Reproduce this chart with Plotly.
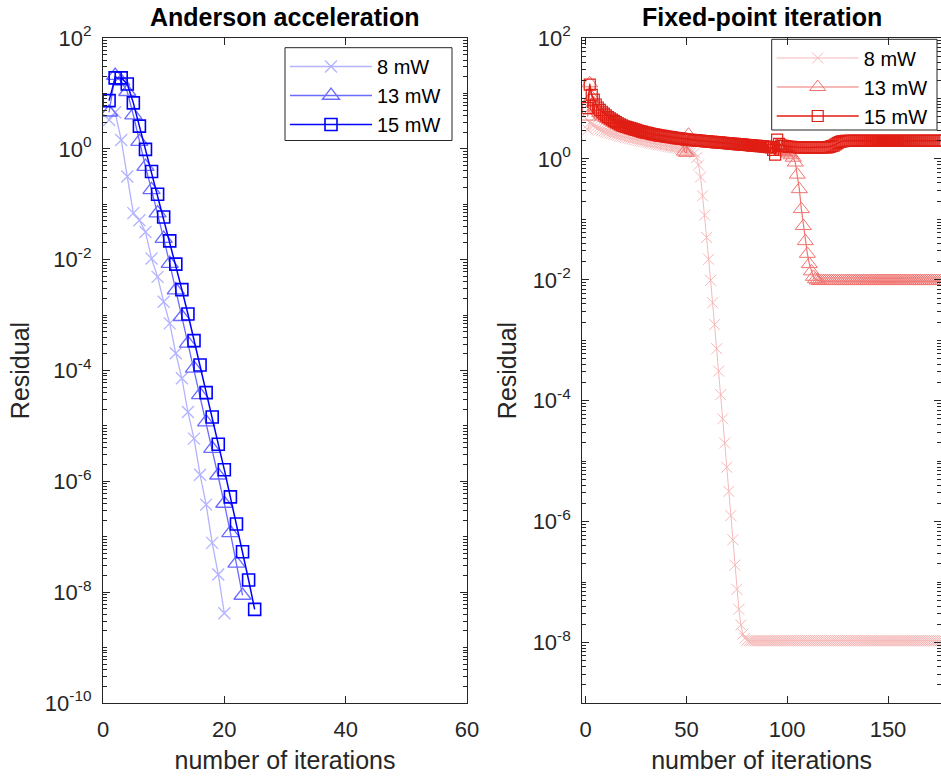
import plotly.graph_objects as go

W, H = 941, 776

# ---------------- data (log10 of residual) ----------------
# Anderson acceleration, iterations 1..N
aa_8mW_exp = [0.52, 0.66, 0.16, -0.50, -1.16, -1.29, -1.50, -1.98, -2.31, -2.76,
              -3.15, -3.69, -4.14, -4.75, -5.23, -5.88, -6.42, -7.11, -7.68, -8.38]
aa_13mW_exp = [0.66, 1.32, 1.22, 1.03, 0.61, 0.13, -0.32, -0.74, -1.16, -1.62,
               -2.07, -2.55, -3.03, -3.51, -3.96, -4.44, -4.93, -5.41, -5.89, -6.40,
               -6.93, -7.48, -8.06]
aa_15mW_exp = [0.87, 1.28, 1.28, 1.17, 0.83, 0.41, -0.01, -0.41, -0.82, -1.23,
               -1.66, -2.08, -2.54, -2.98, -3.46, -3.90, -4.40, -4.84, -5.33, -5.79,
               -6.28, -6.77, -7.27, -7.78, -8.31]

# Fixed-point iteration, iterations 1..178
fp_8mW_exp = [
    0.48, 0.60, 0.58, 0.55, 0.53, 0.51, 0.49, 0.475, 0.46, 0.45,
    0.44, 0.43, 0.42, 0.41, 0.40, 0.39, 0.38, 0.372, 0.364, 0.356,
    0.348, 0.34, 0.332, 0.324, 0.316, 0.308, 0.30, 0.293, 0.286, 0.279,
    0.272, 0.265, 0.258, 0.251, 0.244, 0.237, 0.23, 0.224, 0.218, 0.212,
    0.206, 0.20, 0.194, 0.188, 0.182, 0.176, 0.17, 0.164, 0.158, 0.152,
    0.146, 0.14, 0.13, 0.10, 0.02, -0.10, -0.30, -0.61, -0.93, -1.30,
    -1.66, -2.01, -2.38, -2.74, -3.14, -3.51, -3.90, -4.30, -4.70, -5.10,
    -5.50, -5.90, -6.30, -6.72, -7.12, -7.45, -7.71, -7.86, -7.93, -7.96,
    -7.97, -7.97, -7.97, -7.97, -7.97, -7.97, -7.97, -7.97, -7.97, -7.97,
    -7.97, -7.97, -7.97, -7.97, -7.97, -7.97, -7.97, -7.97, -7.97, -7.97,
    -7.97, -7.97, -7.97, -7.97, -7.97, -7.97, -7.97, -7.97, -7.97, -7.97,
    -7.97, -7.97, -7.97, -7.97, -7.97, -7.97, -7.97, -7.97, -7.97, -7.97,
    -7.97, -7.97, -7.97, -7.97, -7.97, -7.97, -7.97, -7.97, -7.97, -7.97,
    -7.97, -7.97, -7.97, -7.97, -7.97, -7.97, -7.97, -7.97, -7.97, -7.97,
    -7.97, -7.97, -7.97, -7.97, -7.97, -7.97, -7.97, -7.97, -7.97, -7.97,
    -7.97, -7.97, -7.97, -7.97, -7.97, -7.97, -7.97, -7.97, -7.97, -7.97,
    -7.97, -7.97, -7.97, -7.97, -7.97, -7.97, -7.97, -7.97, -7.97, -7.97,
    -7.97, -7.97, -7.97, -7.97, -7.97, -7.97, -7.97, -7.97,
]
fp_13mW_exp = [
    0.70, 1.25, 1.02, 0.92, 0.85, 0.80, 0.76, 0.73, 0.70, 0.68,
    0.66, 0.64, 0.62, 0.60, 0.58, 0.565, 0.55, 0.535, 0.52, 0.51,
    0.50, 0.49, 0.48, 0.47, 0.46, 0.45, 0.44, 0.43, 0.42, 0.415,
    0.41, 0.40, 0.395, 0.39, 0.385, 0.38, 0.375, 0.37, 0.365, 0.36,
    0.355, 0.35, 0.345, 0.34, 0.335, 0.33, 0.325, 0.32, 0.12, 0.10,
    0.40, 0.31, 0.305, 0.30, 0.297, 0.294, 0.291, 0.288, 0.285, 0.282,
    0.279, 0.276, 0.273, 0.27, 0.267, 0.264, 0.261, 0.258, 0.255, 0.252,
    0.249, 0.246, 0.243, 0.24, 0.237, 0.234, 0.231, 0.228, 0.225, 0.222,
    0.219, 0.216, 0.213, 0.21, 0.207, 0.204, 0.201, 0.198, 0.195, 0.19,
    0.185, 0.18, 0.175, 0.17, 0.16, 0.15, 0.14, 0.13, 0.12, 0.11,
    0.09, 0.06, 0.02, -0.06, -0.26, -0.50, -0.83, -1.11, -1.36, -1.57,
    -1.74, -1.86, -1.95, -1.99, -2.01, -2.02, -2.02, -2.02, -2.02, -2.02,
    -2.02, -2.02, -2.02, -2.02, -2.02, -2.02, -2.02, -2.02, -2.02, -2.02,
    -2.02, -2.02, -2.02, -2.02, -2.02, -2.02, -2.02, -2.02, -2.02, -2.02,
    -2.02, -2.02, -2.02, -2.02, -2.02, -2.02, -2.02, -2.02, -2.02, -2.02,
    -2.02, -2.02, -2.02, -2.02, -2.02, -2.02, -2.02, -2.02, -2.02, -2.02,
    -2.02, -2.02, -2.02, -2.02, -2.02, -2.02, -2.02, -2.02, -2.02, -2.02,
    -2.02, -2.02, -2.02, -2.02, -2.02, -2.02, -2.02, -2.02,
]
fp_15mW_exp = [
    0.84, 1.23, 1.06, 0.98, 0.90, 0.85, 0.81, 0.78, 0.75, 0.72,
    0.69, 0.67, 0.65, 0.63, 0.61, 0.59, 0.57, 0.555, 0.54, 0.53,
    0.52, 0.51, 0.50, 0.49, 0.48, 0.47, 0.46, 0.45, 0.44, 0.435,
    0.425, 0.42, 0.41, 0.405, 0.40, 0.39, 0.385, 0.38, 0.375, 0.37,
    0.365, 0.36, 0.355, 0.35, 0.345, 0.34, 0.335, 0.33, 0.325, 0.32,
    0.317, 0.314, 0.311, 0.308, 0.305, 0.302, 0.299, 0.296, 0.293, 0.29,
    0.287, 0.284, 0.281, 0.278, 0.275, 0.272, 0.269, 0.266, 0.263, 0.26,
    0.257, 0.254, 0.251, 0.248, 0.245, 0.242, 0.239, 0.236, 0.233, 0.23,
    0.227, 0.224, 0.221, 0.218, 0.215, 0.212, 0.209, 0.206, 0.203, 0.20,
    0.195, 0.19, 0.15, 0.07, 0.32, 0.25, 0.22, 0.215, 0.21, 0.205,
    0.20, 0.20, 0.197, 0.195, 0.193, 0.19, 0.19, 0.19, 0.19, 0.19,
    0.19, 0.19, 0.19, 0.19, 0.19, 0.19, 0.19, 0.19, 0.19, 0.19,
    0.20, 0.21, 0.22, 0.24, 0.26, 0.28, 0.29, 0.295, 0.30, 0.30,
    0.30, 0.30, 0.30, 0.30, 0.30, 0.30, 0.30, 0.30, 0.30, 0.30,
    0.30, 0.30, 0.30, 0.30, 0.30, 0.30, 0.30, 0.30, 0.30, 0.30,
    0.30, 0.30, 0.30, 0.30, 0.30, 0.30, 0.30, 0.30, 0.30, 0.30,
    0.30, 0.30, 0.30, 0.30, 0.30, 0.30, 0.30, 0.30, 0.30, 0.30,
    0.30, 0.30, 0.30, 0.30, 0.30, 0.30, 0.30, 0.30,
]

series_names = ["8 mW", "13 mW", "15 mW"]
log_tick_exps_left = [-10, -8, -6, -4, -2, 0, 2]
log_tick_exps_right = [-8, -6, -4, -2, 0, 2]
x_ticks_left = [0, 20, 40, 60]
x_ticks_right = [0, 50, 100, 150]

# ---------------- styles ----------------
BLUES = ["#b3b3ff", "#6b6bff", "#0000ff"]
REDS = ["#f6b9b9", "#f07571", "#e01e14"]
AXC = "#262626"
FONT = "Liberation Sans, Arial, Helvetica, sans-serif"

fig = go.Figure()


def add(exps, name, color, symbol, size, lw, mlw, xa, ya, legend):
    xs = list(range(1, len(exps) + 1))
    fig.add_trace(go.Scatter(
        x=xs, y=[10 ** v for v in exps], mode="lines+markers", name=name,
        line=dict(color=color, width=lw),
        marker=dict(symbol=symbol, size=size, color=color,
                    line=dict(color=color, width=mlw)),
        xaxis=xa, yaxis=ya, legend=legend, cliponaxis=True))


add(aa_8mW_exp, series_names[0], BLUES[0], "x-thin-open", 12, 1.3, 1.3, "x", "y", "legend")
add(aa_13mW_exp, series_names[1], BLUES[1], "triangle-up-open", 15, 1.3, 1.3, "x", "y", "legend")
add(aa_15mW_exp, series_names[2], BLUES[2], "square-open", 12, 1.5, 1.6, "x", "y", "legend")

add(fp_8mW_exp, series_names[0], REDS[0], "x-thin-open", 11, 1.0, 1.0, "x2", "y2", "legend2")
add(fp_13mW_exp, series_names[1], REDS[1], "triangle-up-open", 14, 1.2, 1.0, "x2", "y2", "legend2")
add(fp_15mW_exp, series_names[2], REDS[2], "square-open", 11, 1.5, 1.2, "x2", "y2", "legend2")


def sup(e):
    return "10<sup>%d</sup>" % e


def px_x(p):
    return p / W


def px_y(p):
    return 1 - p / H


y_dom = [px_y(703), px_y(38)]
common_axis = dict(showline=True, linecolor=AXC, linewidth=1.2, mirror="ticks",
                   ticks="inside", ticklen=7, tickwidth=1, tickcolor=AXC,
                   showgrid=False, zeroline=False, automargin=False,
                   tickfont=dict(family=FONT, size=22, color=AXC))
xtitle = dict(text="number of iterations", standoff=10,
              font=dict(family=FONT, size=25, color=AXC))
ytitle = dict(text="Residual", standoff=8,
              font=dict(family=FONT, size=25, color=AXC))
legend_common = dict(xanchor="left", yanchor="top", bgcolor="rgba(255,255,255,0)",
                     borderwidth=0, font=dict(family=FONT, size=20, color="#000000"),
                     itemwidth=82, tracegroupgap=0)

fig.update_layout(
    width=W, height=H, margin=dict(l=0, r=0, t=0, b=0, autoexpand=False),
    paper_bgcolor="white", plot_bgcolor="white",
    font=dict(family=FONT, color=AXC),
    xaxis=dict(domain=[px_x(103), px_x(467)], range=[0, 60], tickvals=x_ticks_left,
               anchor="y", ticklabelstandoff=6, title=xtitle, **common_axis),
    yaxis=dict(domain=y_dom, type="log", range=[-10, 2], anchor="x",
               tickvals=[10 ** e for e in log_tick_exps_left],
               ticktext=[sup(e) for e in log_tick_exps_left],
               ticklabelstandoff=6,
               minor=dict(ticks="inside", ticklen=4, dtick="D1", tickcolor=AXC),
               title=ytitle, **common_axis),
    xaxis2=dict(domain=[px_x(582.3), 1.0], range=[-1.69, 176.3], tickvals=x_ticks_right,
                anchor="y2", ticklabelstandoff=6, title=xtitle, **common_axis),
    yaxis2=dict(domain=y_dom, type="log", range=[-9, 2], anchor="x2",
                tickvals=[10 ** e for e in log_tick_exps_right],
                ticktext=[sup(e) for e in log_tick_exps_right],
                ticklabelstandoff=6,
                minor=dict(ticks="inside", ticklen=4, dtick="D1", tickcolor=AXC),
                title=ytitle, **common_axis),
    legend=dict(x=px_x(285), y=px_y(47), **legend_common),
    legend2=dict(x=px_x(771.7), y=px_y(38.5), **legend_common),
    showlegend=True,
    shapes=[
        dict(type="rect", xref="paper", yref="paper", layer="below",
             x0=px_x(285), x1=px_x(452), y0=px_y(140.5), y1=px_y(47.7),
             line=dict(color=AXC, width=1), fillcolor="white"),
        dict(type="rect", xref="paper", yref="paper", layer="above",
             x0=px_x(771.7), x1=px_x(937), y0=px_y(130), y1=px_y(39.3),
             line=dict(color=AXC, width=1), fillcolor="rgba(255,255,255,0)"),
    ],
    annotations=[
        dict(text="<b>Anderson acceleration</b>", x=px_x((103 + 467) / 2), y=px_y(17),
             xref="paper", yref="paper", xanchor="center", yanchor="middle",
             showarrow=False, font=dict(family=FONT, size=25, color="#000000")),
        dict(text="<b>Fixed-point iteration</b>", x=px_x((582.3 + 941) / 2), y=px_y(17),
             xref="paper", yref="paper", xanchor="center", yanchor="middle",
             showarrow=False, font=dict(family=FONT, size=25, color="#000000")),
    ],
)

fig.write_html("out.html")
